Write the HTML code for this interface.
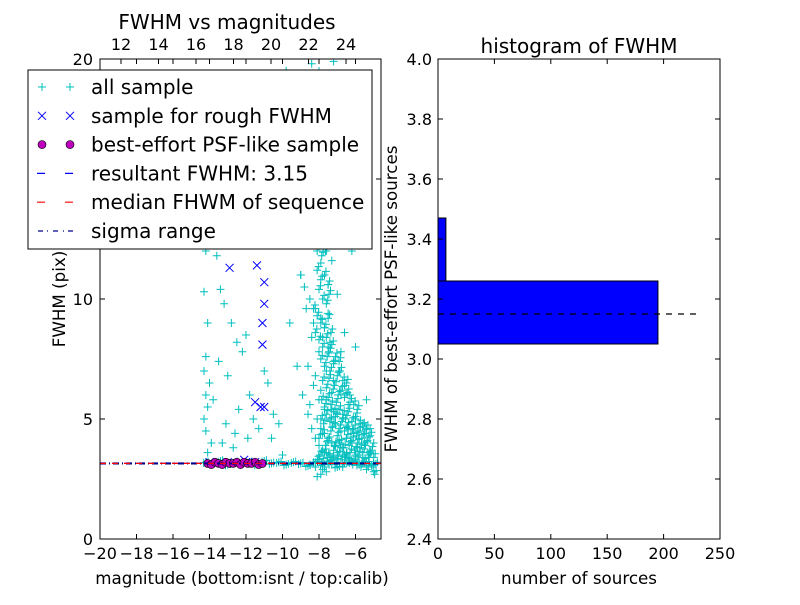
<!DOCTYPE html>
<html><head><meta charset="utf-8"><style>
body{margin:0;background:#fff;}
svg{font-family:"DejaVu Sans","Liberation Sans",sans-serif;}
</style></head><body>
<svg id="c" width="800" height="600" xmlns="http://www.w3.org/2000/svg">
<rect width="800" height="600" fill="#fff"/>
</svg>
<script>
// Left panel data (magnitude, FWHM)
const allX=[-14.2,-14.3,-14.1,-14.2,-14.3,-14.0,-14.2,-14.1,-14.3,-14.2,-13.9,-14.1,-13.6,-13.4,-13.2,-12.8,-12.5,-13.5,-13.0,-12.2,-12.0,-11.8,-11.6,-12.4,-13.8,-13.1,-12.6,-11.9,-11.3,-10.8,-10.5,-10.2,-10.6,-11.0,-12.7,-13.3,-9.8,-9.5,-9.3,-9.0,-9.6,-9.2,-8.9,-8.6,-8.4,-8.2,-8.0,-7.8,-7.6,-7.4,-7.2,-7.0,-6.8,-6.6,-6.4,-6.2,-6.0,-5.8,-5.6,-5.3,-5.0,-8.5,-8.1,-7.9,-7.7,-7.5,-7.3,-7.1,-6.9,-6.7,-6.5,-8.3,-8.0,-7.7,-7.4,-7.1,-6.8,-6.5,-6.2,-5.9,-8.6,-8.2,-7.9,-7.6,-7.3,-7.0,-6.7,-6.4,-6.1,-5.8,-5.5,-5.2,-4.8,-8.4,-8.0,-7.6,-7.2,-6.8,-6.4,-6.0,-5.6,-5.2,-8.7,-8.3,-7.8,-7.5,-7.2,-6.9,-6.6,-6.3,-9.0,-8.8,-8.5,-8.2,-7.9,-7.7,-7.4,-8.1,-7.9,-7.7,-7.5,-8.3,-8.0,-7.8,-7.6,-7.3,-8.6,-8.2,-7.9,-7.6,-8.4,-8.0,-7.7,-8.2,-7.8,-7.5,-8.0,-7.6,-9.1,-8.8,-8.4,-8.0,-7.2,-6.5,-5.5,-8.2,-7.8,-8.5,-7.9,-8.0,-7.6,-8.3,-7.7,-7.3,-8.1,-5.0,-5.4,-6.0,-9.5,-10.0,-6.2,-7.0,-7.5,-6.8,-6.6,-7.1];
const allY=[12.0,10.3,9.0,7.6,7.0,6.5,6.0,5.5,5.0,4.5,4.0,3.6,11.8,10.4,9.8,9.0,8.2,7.4,6.8,7.8,8.5,6.0,5.0,5.4,5.8,4.8,4.4,4.2,4.6,6.5,5.2,4.8,4.2,7.0,3.8,4.0,19.5,15.0,12.8,11.0,9.0,7.2,6.0,5.2,4.6,4.2,3.9,3.7,3.6,3.5,3.4,3.6,3.8,3.5,3.4,3.3,3.5,3.2,3.4,3.0,2.8,5.6,5.0,4.6,4.4,4.2,4.0,3.9,4.1,3.8,3.6,6.4,5.8,5.4,5.0,4.8,4.5,4.2,4.0,3.8,7.2,6.8,6.2,5.8,5.4,5.2,5.0,4.6,4.4,4.2,4.0,3.6,3.2,8.4,7.8,7.0,6.6,6.0,5.6,5.0,4.8,4.6,9.6,9.0,8.4,8.0,7.4,7.0,6.4,6.0,11.0,10.5,10.0,9.6,9.2,8.8,8.2,12.0,11.5,11.0,10.6,13.2,12.8,12.4,12.0,11.6,14.5,14.0,13.6,13.0,15.8,15.2,14.6,17.0,16.5,16.0,18.5,18.0,14.0,13.5,19.8,19.5,19.9,17.5,12.5,3.0,2.9,3.1,2.7,3.3,2.8,3.2,3.0,3.1,2.6,4.0,5.8,8.0,16.0,3.5,12.0,10.2,9.4,7.8,8.6,13.0];
const denseX=[-8.1,-7.95,-7.85,-7.7,-7.55,-7.45,-7.3,-7.2,-7.05,-6.95,-6.8,-6.7,-6.55,-6.4,-6.3,-6.15,-6.0,-5.85,-5.7,-5.55,-5.4,-5.25,-5.1,-4.95,-8.0,-7.8,-7.65,-7.5,-7.35,-7.15,-7.0,-6.85,-6.65,-6.5,-6.35,-6.2,-6.05,-5.9,-5.75,-5.6,-5.45,-5.3,-5.15,-5.0,-7.9,-7.75,-7.6,-7.4,-7.25,-7.1,-6.9,-6.75,-6.6,-6.45,-6.25,-6.1,-5.95,-5.8,-5.65,-5.5,-5.35,-5.2,-7.85,-7.7,-7.5,-7.35,-7.2,-7.05,-6.9,-6.7,-6.55,-6.4,-6.2,-6.0,-5.8,-5.6,-5.4,-7.8,-7.6,-7.45,-7.3,-7.15,-6.95,-6.8,-6.6,-6.45,-6.3,-6.1,-5.9,-7.9,-7.7,-7.55,-7.4,-7.2,-7.0,-6.85,-6.7,-6.5,-8.2,-8.0,-7.8,-7.6,-7.45,-7.3,-7.1,-6.9,-8.3,-8.1,-7.9,-7.7,-7.5,-7.35,-8.0,-7.8,-7.6,-7.45,-8.1,-7.9,-7.7,-7.5,-8.0,-7.85,-7.65,-8.25,-7.95,-7.75,-8.45,-8.15,-7.9,-8.6,-8.35,-8.05];
const denseY=[3.3,3.5,3.2,3.6,3.4,3.1,3.3,3.7,3.2,3.5,3.3,3.0,3.4,3.2,3.6,3.1,3.3,3.5,3.0,3.2,2.9,3.4,3.0,2.7,4.2,4.4,3.9,4.1,4.5,3.9,4.3,4.0,3.8,4.2,3.9,4.1,3.7,4.0,3.8,3.6,3.9,3.5,3.7,3.4,5.0,4.8,5.2,4.9,4.7,5.1,4.6,4.9,4.5,4.7,4.4,4.6,4.3,4.5,4.2,4.4,4.1,4.3,5.8,5.5,5.9,5.6,5.3,5.7,5.4,5.2,5.0,5.3,4.9,5.1,4.8,4.7,4.6,6.6,6.3,6.7,6.1,6.4,6.0,6.2,5.9,6.1,5.7,5.6,5.4,7.5,7.2,7.6,7.0,7.3,6.8,7.0,6.6,6.5,8.6,8.3,8.0,8.4,7.8,8.1,7.6,7.4,9.6,9.3,9.0,8.8,9.2,8.6,10.4,10.0,9.8,10.2,11.2,10.8,11.0,10.6,12.2,11.8,12.0,13.4,13.0,12.6,14.6,14.2,13.8,15.6,15.0,16.4];
const bandX=[-14.2,-13.8,-13.4,-13.0,-12.6,-12.2,-11.8,-11.4,-11.0,-10.6,-10.2,-9.8,-9.4,-9.0,-8.6,-8.2,-7.8,-7.4,-7.0,-6.6,-6.2,-5.8,-5.4,-5.0];
const bandY=[3.2,3.15,3.25,3.1,3.2,3.15,3.2,3.1,3.25,3.15,3.2,3.1,3.2,3.15,3.05,3.2,3.1,3.25,3.0,3.15,3.2,3.1,3.2,3.1];
const roughX=[-12.9,-11.4,-11.0,-11.0,-11.1,-11.1,-11.2,-11.5,-11.0,-12.1,-14.0,-13.0,-12.0,-11.5];
const roughY=[11.3,11.4,10.7,9.8,9.0,8.1,5.5,5.7,5.5,3.3,3.2,3.2,3.2,3.2];
const bestX=[-14.1,-13.9,-13.7,-13.5,-13.3,-13.1,-12.9,-12.7,-12.5,-12.3,-12.1,-11.9,-11.7,-11.5,-11.3,-11.1];
const bestY=[3.15,3.1,3.2,3.15,3.1,3.2,3.15,3.15,3.2,3.1,3.2,3.15,3.15,3.2,3.1,3.15];
const resultFWHM=3.15, medianFWHM=3.15, sigLo=3.13, sigHi=3.17;
const xTicks=[-20,-18,-16,-14,-12,-10,-8,-6];
const yTicks=[0,5,10,15,20];
const topTicks=[12,14,16,18,20,22,24];
// Histogram data
const binEdges=[3.05,3.26,3.47];
const binCounts=[195,7];
const hTicksX=[0,50,100,150,200,250];
const hTicksY=[2.4,2.6,2.8,3.0,3.2,3.4,3.6,3.8,4.0];

const S=document.getElementById('c'),NS='http://www.w3.org/2000/svg';
function mk(t,a,p){const e=document.createElementNS(NS,t);for(const k in a)e.setAttribute(k,a[k]);(p||S).appendChild(e);return e;}
const L={x0:100,x1:381,y0:539,y1:59};
const lx=v=>L.x0+(v+20)*18.25, ly=v=>L.y0-v*24, tx=v=>121+(v-12)*18.75;
const R={x0:438,x1:720,y0:539,y1:59};
const rx=v=>R.x0+v*(R.x1-R.x0)/250, ry=v=>R.y0-(v-2.4)*300;
const cp=mk('clipPath',{id:'cl'});mk('rect',{x:100,y:59,width:281,height:480},cp);
const gL=mk('g',{'clip-path':'url(#cl)'});
function plus(g,x,y,n){const e=mk('path',{d:`M${x-4},${y}h8M${x},${y-4}v8`,stroke:'#00bfbf','stroke-width':1},g);}
for(let i=0;i<allX.length;i++)plus(gL,lx(allX[i]),ly(allY[i]),'all-sample-point');
for(let i=0;i<denseX.length;i++){plus(gL,lx(denseX[i]),ly(denseY[i]),'all-sample-point');plus(gL,lx(denseX[i]+0.08),ly(denseY[i]+0.15),'all-sample-point');}
for(let i=0;i<bandX.length;i++)for(let k=-1;k<=1;k++)plus(gL,lx(bandX[i]+k*0.12),ly(bandY[i]+k*0.03),'all-sample-point');
for(let i=0;i<roughX.length;i++){const x=lx(roughX[i]),y=ly(roughY[i]);const e=mk('path',{d:`M${x-4},${y-4}l8,8M${x-4},${y+4}l8,-8`,stroke:'#0000ff','stroke-width':1},gL);}
for(let i=0;i<bestX.length;i++){const e=mk('circle',{cx:lx(bestX[i]),cy:ly(bestY[i]),r:4,fill:'#bf00bf',stroke:'#000','stroke-width':0.6},gL);}
function hl(v,st,da,n){const e=mk('line',{x1:100,x2:381,y1:ly(v),y2:ly(v),stroke:st,'stroke-dasharray':da,'stroke-width':1.2},gL);}
hl(sigLo,'#00008b','6,3,1,3','sigma-low-line');hl(sigHi,'#00008b','6,3,1,3','sigma-high-line');
hl(resultFWHM,'#0000ff','6,6','resultant-fwhm-line');hl(medianFWHM,'#ff0000','6,6','median-fwhm-line');
mk('rect',{x:100,y:59,width:281,height:480,fill:'none',stroke:'#000'});
function txt(x,y,s,sz,anc,rot,n){const e=mk('text',{x,y,'font-size':sz,'text-anchor':anc||'middle',fill:'#000'});if(rot)e.setAttribute('transform',`rotate(-90 ${x} ${y})`);e.textContent=s;return e;}
xTicks.forEach(v=>{const x=lx(v);mk('path',{d:`M${x},539v-5M${x},59v5`,stroke:'#000'});txt(x,559,'\u2212'+Math.abs(v),16,'middle',0,'x-tick-label');});
yTicks.forEach(v=>{const y=ly(v);mk('path',{d:`M100,${y}h5M381,${y}h-5`,stroke:'#000'});txt(93,y+6,String(v),16,'end',0,'y-tick-label');});
topTicks.forEach(v=>{const x=tx(v);mk('path',{d:`M${x},59v5`,stroke:'#000'});txt(x,50,String(v),16,'middle',0,'top-tick-label');});
txt(242,584,'magnitude (bottom:isnt / top:calib)',16.7,'middle',0,'x-axis-title');
txt(65,299,'FWHM (pix)',16.7,'middle',1,'y-axis-title');
txt(227,29,'FWHM vs magnitudes',20,'middle',0,'left-title');
// legend
const lg=mk('g',{});
mk('rect',{x:28,y:70,width:344,height:179,fill:'#fff',stroke:'#000'},lg);
const items=['all sample','sample for rough FWHM','best-effort PSF-like sample','resultant FWHM: 3.15','median FHWM of sequence','sigma range'];
items.forEach((s,i)=>{const y=87+i*28.8;[42,70].forEach(x=>{
 if(i==0)mk('path',{d:`M${x-4},${y}h8M${x},${y-4}v8`,stroke:'#00bfbf'},lg);
 if(i==1)mk('path',{d:`M${x-4},${y-4}l8,8M${x-4},${y+4}l8,-8`,stroke:'#0000ff'},lg);
 if(i==2)mk('circle',{cx:x,cy:y,r:4,fill:'#bf00bf',stroke:'#000','stroke-width':0.6},lg);});
 if(i==3)mk('path',{d:`M37,${y}h8M65,${y}h8`,stroke:'#0000ff','stroke-width':1.2},lg);
 if(i==4)mk('path',{d:`M37,${y}h8M65,${y}h8`,stroke:'#ff0000','stroke-width':1.2},lg);
 if(i==5)mk('path',{d:`M38,${y}h5M47,${y}h1M53,${y}h5M63,${y}h1M68,${y}h5`,stroke:'#00008b','stroke-width':1.2},lg);
 const t=txt(91,y+7,s,20,'start',0,'legend-label');lg.appendChild(t);});
// histogram
binCounts.forEach((c,i)=>{const e=mk('rect',{x:rx(0),y:ry(binEdges[i+1]),width:rx(c)-rx(0),height:ry(binEdges[i])-ry(binEdges[i+1]),fill:'#0000ff',stroke:'#000'});});
const dl=mk('line',{x1:rx(0),x2:rx(230),y1:ry(resultFWHM),y2:ry(resultFWHM),stroke:'#000','stroke-dasharray':'6,6','stroke-width':1.2});
mk('rect',{x:438,y:59,width:282,height:480,fill:'none',stroke:'#000'});
hTicksX.forEach(v=>{const x=rx(v);mk('path',{d:`M${x},539v-5M${x},59v5`,stroke:'#000'});txt(x,559,String(v),16,'middle',0,'hist-x-tick-label');});
hTicksY.forEach(v=>{const y=ry(v);mk('path',{d:`M438,${y}h5M720,${y}h-5`,stroke:'#000'});txt(432,y+6,v.toFixed(1),16,'end',0,'hist-y-tick-label');});
txt(579,584,'number of sources',16.7,'middle',0,'hist-x-axis-title');
txt(397,299,'FWHM of best-effort PSF-like sources',16.7,'middle',1,'hist-y-axis-title');
txt(579,53,'histogram of FWHM',20,'middle',0,'hist-title');
</script>
</body></html>
